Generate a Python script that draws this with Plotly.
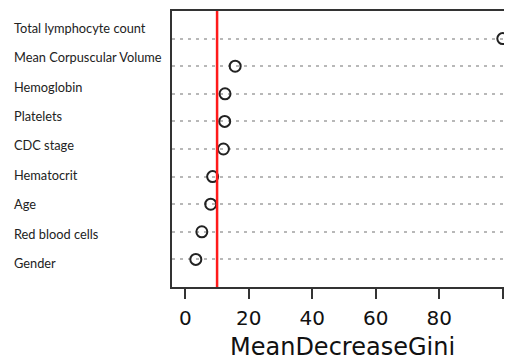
import plotly.graph_objects as go

# Data (top to bottom as displayed)
variables = [
    "Total lymphocyte count",
    "Mean Corpuscular Volume",
    "Hemoglobin",
    "Platelets",
    "CDC stage",
    "Hematocrit",
    "Age",
    "Red blood cells",
    "Gender",
]
gini = [100.0, 15.7, 12.5, 12.4, 12.0, 8.6, 8.0, 5.2, 3.3]
threshold = 10
tick_vals = [0, 20, 40, 60, 80, 100]
tick_text = ["0", "20", "40", "60", "80", ""]
x_title = "MeanDecreaseGini"

n = len(variables)
rows = [n - i for i in range(n)]  # 9 .. 1

fig = go.Figure()
fig.add_trace(go.Scatter(
    x=gini, y=rows, mode="markers", cliponaxis=False,
    marker=dict(symbol="circle-open", size=11, color="#222222",
                line=dict(width=2, color="#222222")),
    showlegend=False, hoverinfo="x",
))

# red threshold line
fig.add_shape(type="line", x0=threshold, x1=threshold, y0=0, y1=1,
              xref="x", yref="y domain",
              line=dict(color="#ff1a1a", width=2.5))

# left-aligned variable labels (slightly spread relative to rows)
center = (n + 1) / 2
for name, r in zip(variables, rows):
    ly = center + (r - center) * 1.066 + 0.13
    fig.add_annotation(text=name, x=-0.47, xref="paper", y=ly, yref="y",
                       xanchor="left", yanchor="middle", showarrow=False,
                       font=dict(family="Lato, sans-serif",
                                 size=12.8, color="#222222"))

# x-axis title
fig.add_annotation(text=x_title, x=0.5, xref="paper", y=-0.219, yref="paper",
                   xanchor="center", yanchor="middle", showarrow=False,
                   font=dict(family="DejaVu Sans, sans-serif", size=24, color="#111111"))

fig.update_layout(
    width=504, height=352,
    margin=dict(l=164, r=0, t=3, b=73, pad=0, autoexpand=False),
    paper_bgcolor="white", plot_bgcolor="white",
    xaxis=dict(
        range=[-4.2, 102.9], tickvals=tick_vals, ticktext=tick_text,
        ticks="outside", ticklen=10, tickwidth=2, tickcolor="#333333",
        ticklabelstandoff=2, automargin=False,
        showline=True, linecolor="#333333", linewidth=2, mirror=True,
        showgrid=False, zeroline=False,
        tickfont=dict(family="DejaVu Sans, sans-serif", size=20, color="#111111"),
    ),
    yaxis=dict(
        range=[0, n + 1], tickvals=rows, showticklabels=False, ticks="",
        automargin=False,
        showline=True, linecolor="#333333", linewidth=2, mirror=False,
        showgrid=True, gridcolor="#b8b8b8", gridwidth=1.5, griddash="3px,5px",
        zeroline=False,
    ),
)

fig.write_html("out.html")
